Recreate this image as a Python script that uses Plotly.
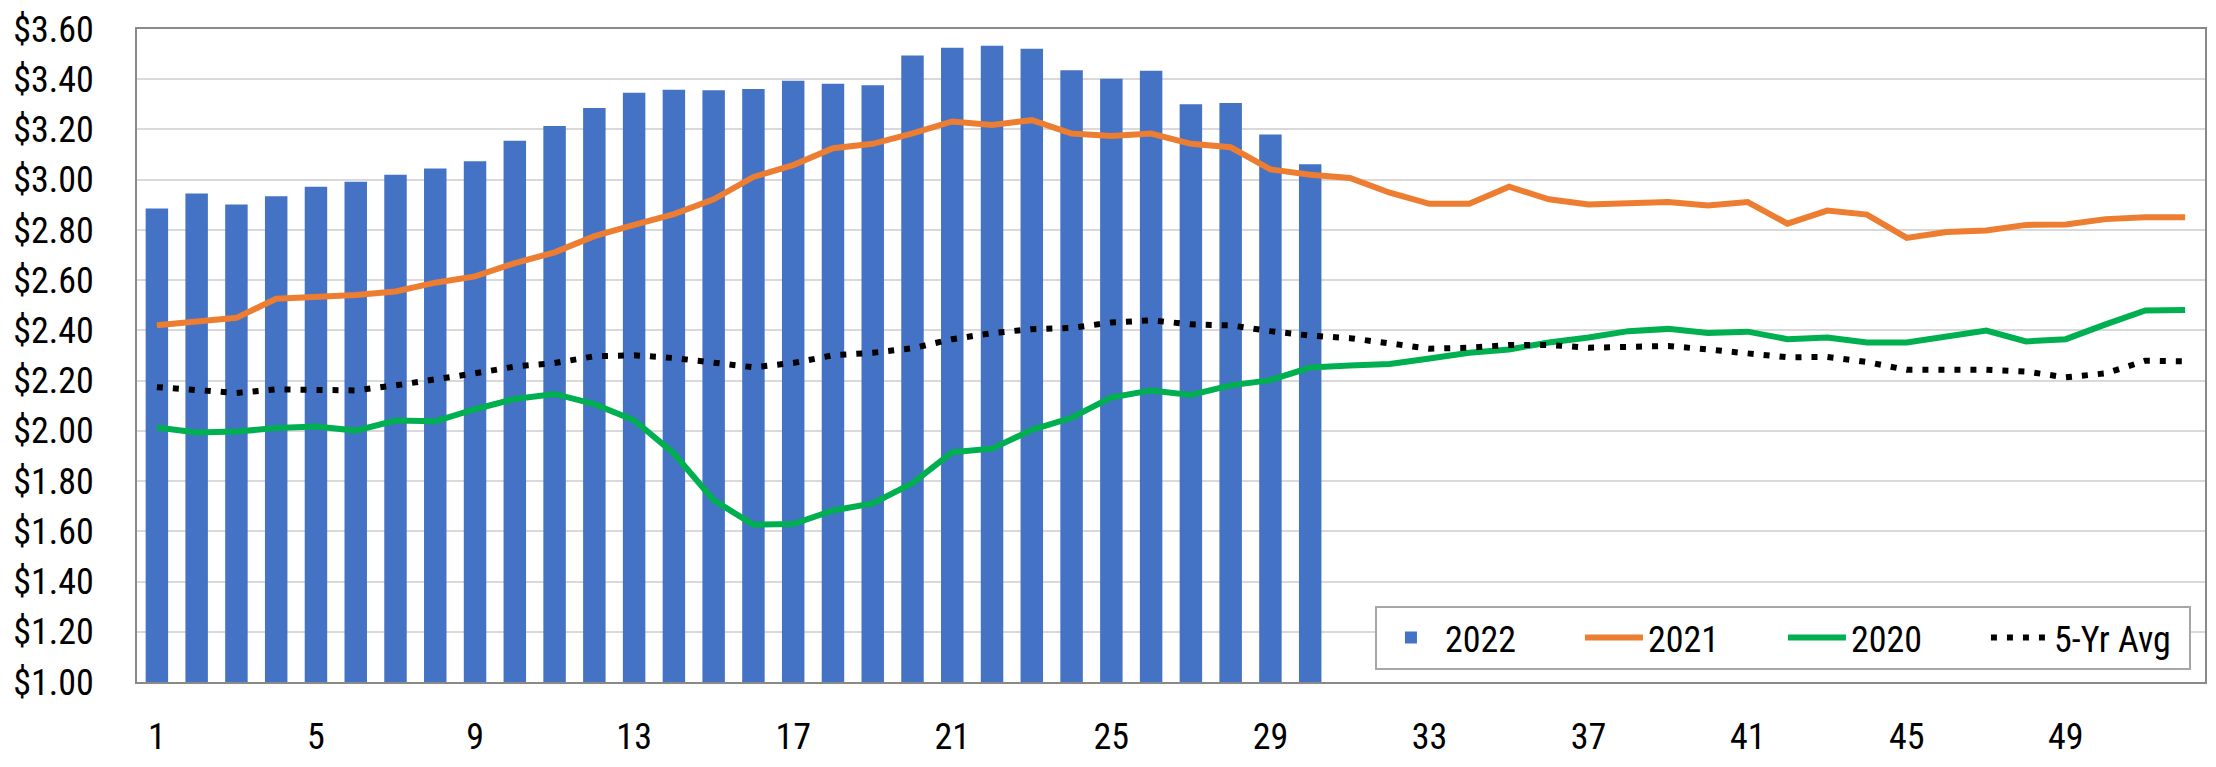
import plotly.graph_objects as go

weeks = list(range(1, 53))

y2022 = [2.885, 2.945, 2.901, 2.934, 2.972, 2.992, 3.020, 3.045, 3.073, 3.155,
         3.214, 3.285, 3.346, 3.358, 3.356, 3.361, 3.394, 3.382, 3.376, 3.494,
         3.525, 3.533, 3.521, 3.436, 3.402, 3.434, 3.300, 3.305, 3.180, 3.061] + [None] * 22

y2021 = [2.420, 2.434, 2.450, 2.526, 2.533, 2.541, 2.555, 2.590, 2.615, 2.668,
         2.711, 2.775, 2.820, 2.863, 2.922, 3.011, 3.058, 3.125, 3.143, 3.184,
         3.232, 3.218, 3.237, 3.184, 3.174, 3.184, 3.143, 3.129, 3.041, 3.020,
         3.007, 2.948, 2.904, 2.904, 2.972, 2.922, 2.901, 2.907, 2.911, 2.897,
         2.911, 2.825, 2.877, 2.861, 2.768, 2.792, 2.798, 2.820, 2.822, 2.843,
         2.850, 2.850]

y2020 = [2.013, 1.993, 1.997, 2.011, 2.017, 2.001, 2.041, 2.038, 2.086, 2.127,
         2.147, 2.106, 2.042, 1.910, 1.724, 1.626, 1.629, 1.683, 1.711, 1.792,
         1.915, 1.929, 2.004, 2.052, 2.133, 2.161, 2.143, 2.181, 2.202, 2.252,
         2.260, 2.266, 2.288, 2.311, 2.324, 2.352, 2.372, 2.397, 2.406, 2.390,
         2.395, 2.365, 2.372, 2.352, 2.352, 2.375, 2.399, 2.356, 2.365, 2.424,
         2.479, 2.481]

avg5 = [2.174, 2.161, 2.151, 2.165, 2.165, 2.161, 2.181, 2.202, 2.229, 2.256,
        2.270, 2.297, 2.301, 2.290, 2.270, 2.253, 2.270, 2.301, 2.311, 2.329,
        2.365, 2.389, 2.405, 2.410, 2.431, 2.440, 2.424, 2.420, 2.397, 2.379,
        2.369, 2.348, 2.327, 2.331, 2.342, 2.342, 2.331, 2.334, 2.338, 2.324,
        2.311, 2.293, 2.294, 2.274, 2.243, 2.245, 2.243, 2.236, 2.213, 2.229,
        2.279, 2.277]

x_ticks = list(range(1, 53, 4))
x_tick_labels = [str(v) for v in x_ticks]

FONT = "Liberation Sans Narrow, Roboto Condensed, Arial Narrow, Liberation Sans, sans-serif"

fig = go.Figure()
fig.add_trace(go.Bar(x=weeks, y=y2022, name="2022", marker=dict(color="#4472C4", line=dict(width=0))))
fig.add_trace(go.Scatter(x=weeks, y=y2021, name="2021", mode="lines",
                         line=dict(color="#ED7D31", width=6)))
fig.add_trace(go.Scatter(x=weeks, y=y2020, name="2020", mode="lines",
                         line=dict(color="#00B050", width=6)))
fig.add_trace(go.Scatter(x=weeks, y=avg5, name="5-Yr Avg", mode="lines",
                         line=dict(color="#000000", width=6, dash="6px,10px")))

fig.update_layout(
    width=2216, height=767,
    margin=dict(l=137, r=9, t=22, b=64),
    paper_bgcolor="white", plot_bgcolor="white",
    font=dict(family=FONT, size=36, color="#000000"),
    bargap=0.435,
    showlegend=True,
    legend=dict(
        orientation="h", x=0.9932, xanchor="right", y=0.019, yanchor="bottom",
        bgcolor="white", bordercolor="#A6A6A6", borderwidth=2,
        font=dict(family=FONT, size=36, color="#000000"),
        itemwidth=58, entrywidth=130, entrywidthmode="pixels",
        traceorder="normal",
    ),
)
fig.update_xaxes(
    range=[0.5, 52.5], tickmode="array", tickvals=x_ticks, ticktext=x_tick_labels,
    showgrid=False, zeroline=False, showline=True, mirror=True,
    linecolor="#898989", linewidth=2, ticks="", ticklabelstandoff=22,
    tickfont=dict(family=FONT, size=36),
)
fig.update_yaxes(
    range=[1.0, 3.6], dtick=0.2, tick0=1.0, tickformat="$.2f",
    showgrid=True, gridcolor="#D9D9D9", gridwidth=2, zeroline=False,
    showline=True, mirror=True, linecolor="#898989", linewidth=2,
    ticks="", ticklabelstandoff=34, tickfont=dict(family=FONT, size=36),
)

fig.write_html("out.html", config={"displayModeBar": False},
               post_script="document.body.style.margin='0';")
